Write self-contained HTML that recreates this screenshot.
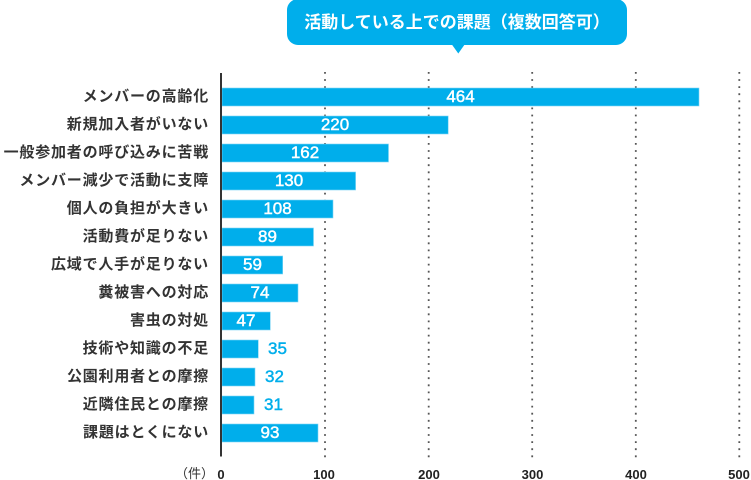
<!DOCTYPE html>
<html lang="ja">
<head>
<meta charset="utf-8">
<style>
  html,body{margin:0;padding:0;background:#fff;}
  #wrap{position:relative;width:751px;height:480px;overflow:hidden;background:#fff;
    font-family:"Liberation Sans","Noto Sans CJK JP",sans-serif;}
  .lab{position:absolute;right:542px;height:18px;line-height:18px;white-space:nowrap;
    font-family:"Liberation Sans","Noto Sans CJK JP",sans-serif;font-weight:bold;
    font-size:15px;letter-spacing:0.8px;color:#333;text-align:right;}
  .val{position:absolute;height:18px;line-height:18px;font-size:17px;font-weight:normal;
    -webkit-text-stroke:0.45px #fff;
    font-family:"Liberation Sans",sans-serif;color:#fff;text-align:center;white-space:nowrap;}
  .out{color:#00aeeb;-webkit-text-stroke:0.45px #00aeeb;text-align:left;}
  .tick{position:absolute;top:466px;width:40px;height:18px;line-height:18px;margin-left:-20px;
    text-align:center;font-size:13px;font-weight:bold;color:#222;font-family:"Liberation Sans",sans-serif;}
  #title{position:absolute;left:287px;top:0;width:340px;height:45px;line-height:45px;text-align:center;
    color:#fff;font-weight:bold;font-size:17px;font-family:"Liberation Sans","Noto Sans CJK JP",sans-serif;}
</style>
</head>
<body>
<div id="wrap">
<svg width="751" height="480" style="position:absolute;left:0;top:0">
  <rect x="287" y="-1" width="340" height="46" rx="11" ry="11" fill="#00aeeb"/>
  <polygon points="451.5,44 465,44 458.3,53.5" fill="#00aeeb"/>
  <g stroke="#555" stroke-width="1.8" stroke-dasharray="1.8 5.3">
    <line x1="325" y1="72" x2="325" y2="458"/>
    <line x1="428.7" y1="72" x2="428.7" y2="458"/>
    <line x1="532.2" y1="72" x2="532.2" y2="458"/>
    <line x1="635.8" y1="72" x2="635.8" y2="458"/>
    <line x1="739.3" y1="72" x2="739.3" y2="458"/>
  </g>
  <g fill="#00aeeb" stroke="#7fd6f5" stroke-width="0.6">
    <rect x="222" y="88" width="477" height="18"/>
    <rect x="222" y="116" width="226.2" height="18"/>
    <rect x="222" y="144" width="166.5" height="18"/>
    <rect x="222" y="172" width="133.6" height="18"/>
    <rect x="222" y="200" width="111" height="18"/>
    <rect x="222" y="228" width="91.5" height="18"/>
    <rect x="222" y="256" width="60.7" height="18"/>
    <rect x="222" y="284" width="76" height="18"/>
    <rect x="222" y="312" width="48.3" height="18"/>
    <rect x="222" y="340" width="36.3" height="18"/>
    <rect x="222" y="368" width="33" height="18"/>
    <rect x="222" y="396" width="32" height="18"/>
    <rect x="222" y="424" width="96" height="18"/>
  </g>
  <line x1="221" y1="73" x2="221" y2="456.5" stroke="#333" stroke-width="2"/>
</svg>

<div id="title">活動している上での課題（複数回答可）</div>

<div class="lab" style="top:88px">メンバーの高齢化</div>
<div class="lab" style="top:116px">新規加入者がいない</div>
<div class="lab" style="top:144px">一般参加者の呼び込みに苦戦</div>
<div class="lab" style="top:172px">メンバー減少で活動に支障</div>
<div class="lab" style="top:200px">個人の負担が大きい</div>
<div class="lab" style="top:228px">活動費が足りない</div>
<div class="lab" style="top:256px">広域で人手が足りない</div>
<div class="lab" style="top:284px">糞被害への対応</div>
<div class="lab" style="top:312px">害虫の対処</div>
<div class="lab" style="top:340px">技術や知識の不足</div>
<div class="lab" style="top:368px">公園利用者との摩擦</div>
<div class="lab" style="top:396px">近隣住民との摩擦</div>
<div class="lab" style="top:424px">課題はとくにない</div>

<div class="val" style="left:222px;width:477px;top:88px">464</div>
<div class="val" style="left:222px;width:226px;top:116px">220</div>
<div class="val" style="left:222px;width:166px;top:144px">162</div>
<div class="val" style="left:222px;width:134px;top:172px">130</div>
<div class="val" style="left:222px;width:111px;top:200px">108</div>
<div class="val" style="left:222px;width:91px;top:228px">89</div>
<div class="val" style="left:222px;width:61px;top:256px">59</div>
<div class="val" style="left:222px;width:76px;top:284px">74</div>
<div class="val" style="left:222px;width:48px;top:312px">47</div>
<div class="val out" style="left:268px;top:340px">35</div>
<div class="val out" style="left:265px;top:368px">32</div>
<div class="val out" style="left:264px;top:396px">31</div>
<div class="val" style="left:222px;width:96px;top:424px">93</div>

<div style="position:absolute;left:170px;top:465px;width:44px;height:18px;line-height:18px;text-align:right;font-size:13px;color:#333;font-family:'Liberation Sans','Noto Sans CJK JP',sans-serif;">（件）</div>
<div class="tick" style="left:221px">0</div>
<div class="tick" style="left:324px">100</div>
<div class="tick" style="left:429px">200</div>
<div class="tick" style="left:532.5px">300</div>
<div class="tick" style="left:636px">400</div>
<div class="tick" style="left:739px">500</div>
</div>
</body>
</html>
